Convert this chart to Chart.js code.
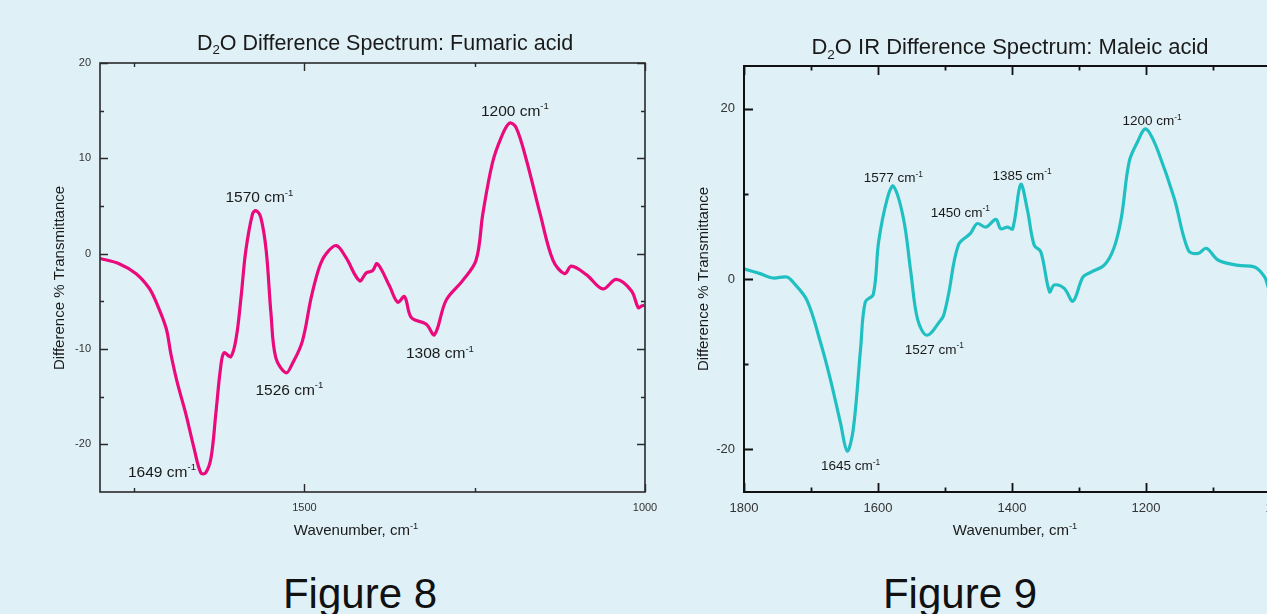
<!DOCTYPE html>
<html>
<head>
<meta charset="utf-8">
<script src="https://cdn.jsdelivr.net/npm/chart.js@4.4.1/dist/chart.umd.min.js"></script>
<style>
  html, body { margin: 0; padding: 0; background: #dff0f7; width: 1267px; height: 614px; overflow: hidden; }
  #fig8 { position: absolute; left: 0; top: 0; }
  #fig9 { position: absolute; left: 690px; top: 0; }
  .caption { position: absolute; top: 570px; width: 300px; text-align: center; line-height: 46px;
             font: 42px "Liberation Sans", Arial, sans-serif; color: #111; }
</style>
</head>
<body>
<canvas id="fig8" width="690" height="560"></canvas>
<canvas id="fig9" width="620" height="560"></canvas>
<div class="caption" style="left:210px">Figure 8</div>
<div class="caption" style="left:810px">Figure 9</div>
<script>
// Figure 8 - fumaric acid
const fumaricWavenumber = [1800, 1772, 1747, 1728, 1718, 1703, 1696, 1687, 1674, 1662, 1652, 1645, 1637, 1630, 1623, 1618,
  1608, 1600, 1593, 1586, 1576, 1571, 1564, 1556, 1549, 1542, 1527, 1518, 1503, 1490, 1478, 1468, 1453, 1439, 1419, 1409,
  1400, 1393, 1375, 1363, 1353, 1343, 1321, 1309, 1292, 1268, 1248, 1238, 1224, 1211, 1199, 1189, 1174, 1154, 1135, 1118,
  1108, 1086, 1062, 1042, 1020, 1010, 1005, 1001];
const fumaricDiff = [-0.5, -1.05, -2.1, -3.6, -5.0, -7.8, -10.5, -13.4, -16.8, -20.4, -23.0, -23.0, -21.4, -16.8, -12.0, -10.4,
  -10.8, -8.8, -4.6, 0.3, 4.2, 4.5, 3.8, 0.3, -6.3, -10.9, -12.5, -11.6, -9.2, -4.6, -1.4, 0, 0.85, -0.4, -2.85, -2.0,
  -1.8, -1.05, -3.4, -5.1, -4.5, -6.7, -7.4, -8.5, -4.9, -2.85, -0.7, 4.2, 9.5, 12.2, 13.7, 13.2, 9.8, 4.2, -0.7, -2.1,
  -1.3, -2.2, -3.7, -2.7, -3.9, -5.65, -5.5, -5.4];
const fumaricPeakText = ['1649', '1570', '1526', '1308', '1200'];
const fumaricPeakLabelWn = [1709, 1566, 1522, 1301, 1191];
const fumaricPeakLabelVal = [-22.8, 6.0, -14.2, -10.4, 15.05];
const fumaricXLabels = [1500, 1000];
const fumaricXMinor = [1750, 1250];
const fumaricYLabels = [20, 10, 0, -10, -20];
const fumaricYMinor = [15, 5, -5, -15];

// Figure 9 - maleic acid
const maleicWavenumber = [1800, 1776, 1757, 1736, 1727, 1706, 1686, 1671, 1656, 1646, 1637, 1626, 1619, 1607, 1599, 1586,
  1577, 1562, 1551, 1541, 1527, 1507, 1502, 1495, 1480, 1462, 1452, 1439, 1424, 1417, 1407, 1399, 1387, 1377, 1367, 1357,
  1344, 1337, 1322, 1309, 1294, 1282, 1262, 1248, 1237, 1225, 1212, 1202, 1195, 1182, 1158, 1137, 1122, 1110, 1092, 1062,
  1038, 1023, 1017, 1010];
const maleicDiff = [1.2, 0.63, 0.12, 0.24, -0.35, -2.5, -7.4, -11.8, -16.9, -20.2, -17.7, -8.2, -2.7, -1.8, 4.4, 9.5,
  10.9, 7.1, 0.8, -4.7, -6.6, -4.9, -4.25, -1.9, 4.0, 5.35, 6.5, 6.1, 7.0, 5.9, 6.1, 5.9, 11.1, 8.1, 4.0, 3.2,
  -1.5, -0.7, -1.1, -2.6, 0.24, 0.8, 1.65, 3.6, 7.1, 13.8, 16.2, 17.6, 17.2, 15.0, 9.5, 3.4, 3.0, 3.6, 2.2, 1.6,
  1.4, 0.24, -1.1, -2.6];
const maleicPeakText = ['1645', '1577', '1527', '1450', '1385', '1200'];
const maleicPeakLabelWn = [1641, 1577, 1516, 1477, 1385, 1191];
const maleicPeakLabelVal = [-21.9, 11.9, -8.2, 7.9, 12.2, 18.6];
const maleicXLabels = [1800, 1600, 1400, 1200, 1000];
const maleicXMinor = [1700, 1500, 1300, 1100];
const maleicYLabels = [20, 0, -20];
const maleicYMinor = [10, -10];

const FONT = '"Liberation Sans", Arial, sans-serif';

// draws text made of parts: [text, mode] where mode is '' / 'sub' / 'sup'
function richText(ctx, parts, cx, cy, size, rotate) {
  ctx.save();
  ctx.translate(cx, cy);
  if (rotate) ctx.rotate(-Math.PI / 2);
  let total = 0;
  const sizes = parts.map(([t, m]) => {
    const s = m ? size * 0.62 : size;
    ctx.font = s + 'px ' + FONT;
    const w = ctx.measureText(t).width;
    total += w;
    return [s, w];
  });
  let x = -total / 2;
  ctx.textBaseline = 'alphabetic';
  ctx.textAlign = 'left';
  parts.forEach(([t, m], i) => {
    const [s, w] = sizes[i];
    ctx.font = s + 'px ' + FONT;
    let dy = size * 0.36;
    if (m === 'sub') dy += size * 0.22;
    if (m === 'sup') dy -= size * 0.42;
    ctx.fillText(t, x, dy);
    x += w;
  });
  ctx.restore();
}

const decorations = {
  id: 'decorations',
  afterDraw(chart, args, o) {
    const { ctx, chartArea: a, scales: { x, y } } = chart;
    ctx.save();
    ctx.strokeStyle = o.axisColor;
    ctx.lineWidth = o.axisWidth;
    ctx.strokeRect(a.left, a.top, a.right - a.left, a.bottom - a.top);
    const xt = (list, len) => list.forEach(v => {
      const px = Math.round(x.getPixelForValue(v)) + 0.5;
      ctx.beginPath();
      ctx.moveTo(px, a.bottom); ctx.lineTo(px, a.bottom - len);
      ctx.moveTo(px, a.top); ctx.lineTo(px, a.top + len);
      ctx.stroke();
    });
    const yt = (list, len) => list.forEach(v => {
      const py = Math.round(y.getPixelForValue(v)) + 0.5;
      ctx.beginPath();
      ctx.moveTo(a.left, py); ctx.lineTo(a.left + len, py);
      ctx.moveTo(a.right, py); ctx.lineTo(a.right - len, py);
      ctx.stroke();
    });
    ctx.lineWidth = o.tickWidth;
    xt(o.xMajor, o.majorLen); xt(o.xMinor, o.minorLen);
    yt(o.yMajor, o.majorLen); yt(o.yMinor, o.minorLen);

    ctx.fillStyle = '#1a1a1a';
    richText(ctx, o.title, o.titlePos[0], o.titlePos[1], o.titleSize);
    richText(ctx, [['Wavenumber, cm', ''], ['-1', 'sup']], o.xTitlePos[0], o.xTitlePos[1], o.axisTitleSize);
    richText(ctx, [['Difference % Transmittance', '']], o.yTitlePos[0], o.yTitlePos[1], o.axisTitleSize, true);
    o.peakText.forEach((t, i) => {
      richText(ctx, [[t + ' cm', ''], ['-1', 'sup']],
        x.getPixelForValue(o.peakWn[i]), y.getPixelForValue(o.peakVal[i]), o.peakSize);
    });
    ctx.restore();
  }
};

function spectrumChart(id, wn, vals, color, yMin, yMax, xLabels, yLabels, pad, yWidth, deco, tickSize) {
  return new Chart(document.getElementById(id), {
    type: 'line',
    data: {
      datasets: [{
        data: wn.map((w, i) => ({ x: w, y: vals[i] })),
        borderColor: color,
        borderWidth: 3.2,
        pointRadius: 0,
        tension: 0.35,
        fill: false
      }]
    },
    options: {
      responsive: false,
      animation: false,
      devicePixelRatio: 1,
      layout: { padding: pad },
      plugins: { legend: { display: false }, tooltip: { enabled: false }, decorations: deco },
      scales: {
        x: {
          type: 'linear', reverse: true, min: 1000, max: 1800,
          grid: { display: false, drawTicks: false }, border: { display: false },
          afterBuildTicks: s => { s.ticks = xLabels.map(v => ({ value: v })); },
          afterFit: s => { s.height = 560 - 492; },
          ticks: { autoSkip: false, maxRotation: 0, padding: 9, color: '#333', font: { family: FONT, size: tickSize },
                   callback: v => String(v) }
        },
        y: {
          min: yMin, max: yMax,
          grid: { display: false, drawTicks: false }, border: { display: false },
          afterBuildTicks: s => { s.ticks = yLabels.map(v => ({ value: v })); },
          afterFit: s => { s.width = yWidth; },
          ticks: { autoSkip: false, padding: 9, color: '#333', font: { family: FONT, size: tickSize },
                   callback: v => String(v) }
        }
      }
    },
    plugins: [decorations]
  });
}

spectrumChart('fig8', fumaricWavenumber, fumaricDiff, '#ea0a7c', -25, 20, fumaricXLabels, fumaricYLabels,
  { top: 63, right: 45, left: 0, bottom: 0 }, 100, {
    axisColor: '#2a2a2a', axisWidth: 1.6, tickWidth: 1.4, majorLen: 8, minorLen: 4,
    xMajor: fumaricXLabels, xMinor: fumaricXMinor, yMajor: fumaricYLabels, yMinor: fumaricYMinor,
    title: [['D', ''], ['2', 'sub'], ['O Difference Spectrum: Fumaric acid', '']], titlePos: [385, 42], titleSize: 21.5,
    xTitlePos: [356, 530], yTitlePos: [59, 278], axisTitleSize: 15,
    peakText: fumaricPeakText, peakWn: fumaricPeakLabelWn, peakVal: fumaricPeakLabelVal, peakSize: 15.5
  }, 11);

spectrumChart('fig9', maleicWavenumber, maleicDiff, '#20c0c2', -25, 25, maleicXLabels, maleicYLabels,
  { top: 66, right: 30, left: 0, bottom: 0 }, 54, {
    axisColor: '#111', axisWidth: 2, tickWidth: 1.8, majorLen: 9, minorLen: 4.5,
    xMajor: maleicXLabels, xMinor: maleicXMinor, yMajor: maleicYLabels, yMinor: maleicYMinor,
    title: [['D', ''], ['2', 'sub'], ['O IR Difference Spectrum: Maleic acid', '']], titlePos: [320, 46], titleSize: 22,
    xTitlePos: [325, 530], yTitlePos: [13, 279], axisTitleSize: 15,
    peakText: maleicPeakText, peakWn: maleicPeakLabelWn, peakVal: maleicPeakLabelVal, peakSize: 13.5
  }, 13);
</script>
</body>
</html>
